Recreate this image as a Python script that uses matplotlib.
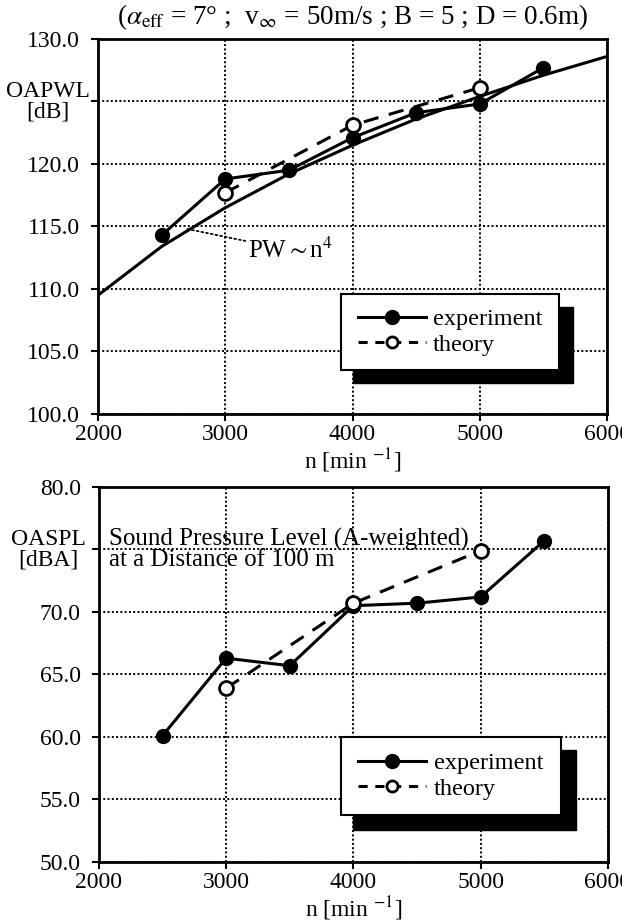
import matplotlib
matplotlib.use("Agg")
import matplotlib.pyplot as plt
from matplotlib.patches import Rectangle
from matplotlib.lines import Line2D

plt.rcParams['font.family'] = ['Liberation Serif', 'DejaVu Serif']
plt.rcParams['mathtext.fontset'] = 'stix'

# values
rpm_exp = [2500, 3000, 3500, 4000, 4500, 5000, 5500]
pwl_exp = [114.3, 118.8, 119.5, 122.1, 124.1, 124.8, 127.7]
rpm_theory = [3000, 4000, 5000]
pwl_theory = [117.7, 123.1, 126.1]
rpm_law = [2000, 2500, 3000, 3500, 4000, 4500, 5000, 5500, 6000]
pwl_law = [109.5, 113.4, 116.5, 119.2, 121.5, 123.6, 125.4, 127.1, 128.6]
spl_exp = [60.1, 66.3, 65.7, 70.5, 70.7, 71.2, 75.7]
spl_theory = [63.9, 70.7, 74.9]

x_ticks = [2000, 3000, 4000, 5000, 6000]
pwl_ticks = [100, 105, 110, 115, 120, 125, 130]
spl_ticks = [50, 55, 60, 65, 70, 75, 80]

FS = 17
fig = plt.figure(figsize=(6.22, 9.21), dpi=100)
ax1 = fig.add_axes([0.1576, 0.5505, 0.8183, 0.4072])
ax2 = fig.add_axes([0.1590, 0.0641, 0.8183, 0.4072])


def style_axes(ax, yticks, skip):
    ax.set_xlim(2000, 6000)
    ax.set_ylim(yticks[0], yticks[-1])
    ax.set_xticks(x_ticks)
    ax.set_xticklabels([str(t) for t in x_ticks])
    ax.set_yticks(yticks)
    ax.set_yticklabels(['' if t == skip else '%.1f' % t for t in yticks])
    ax.tick_params(direction='out', length=5, width=1.5, labelsize=FS, pad=2)
    ax.tick_params(axis='y', pad=8)
    for s in ax.spines.values():
        s.set_linewidth(2)
    ax.grid(True, color='black', linestyle=(0, (1, 1.2)), linewidth=1.4)
    ax.set_axisbelow(True)
    ax.set_xlabel(r'n [min $^{-1}$]', fontsize=FS, labelpad=1)


def draw_legend(ax, box, shadow):
    ax.add_patch(Rectangle(shadow[:2], shadow[2], shadow[3], transform=ax.transAxes,
                           facecolor='black', edgecolor='black', zorder=5))
    ax.add_patch(Rectangle(box[:2], box[2], box[3], transform=ax.transAxes,
                           facecolor='white', edgecolor='black', linewidth=1.5, zorder=6))
    handles = [Line2D([], [], color='black', lw=2.2, marker='o', ms=10),
               Line2D([], [], color='black', lw=2.2, ls=(0, (3, 2.5)), marker='o', ms=8,
                      mfc='white', mew=2)]
    leg = ax.legend(handles, ['experiment', 'theory'], loc='center',
                    bbox_to_anchor=(box[0] + box[2] / 2, box[1] + box[3] / 2),
                    frameon=False, fontsize=FS + 0.5, handlelength=2.8, handletextpad=0.3,
                    labelspacing=0.15, borderpad=0.2)
    leg.set_zorder(7)


# top: overall sound power level
style_axes(ax1, pwl_ticks, 125)
ax1.plot(rpm_law, pwl_law, color='black', lw=2.2, zorder=3)
ax1.plot(rpm_theory, pwl_theory, color='black', lw=2.2, ls=(0, (5, 3.5)),
         marker='o', ms=10, mfc='white', mew=2, zorder=4)
ax1.plot(rpm_exp, pwl_exp, color='black', lw=2.2, marker='o', ms=10, zorder=4)
ax1.annotate(r'PW$\sim$n$^4$', xy=(2700, 114.8), xytext=(3180, 113.1),
             fontsize=FS + 1, va='center', ha='left',
             arrowprops=dict(arrowstyle='-', color='black', lw=1.3, ls=':',
                             shrinkA=0, shrinkB=0))
ax1.text(-0.098, 125, 'OAPWL\n[dB]', transform=ax1.get_yaxis_transform(),
         ha='center', va='center', fontsize=FS, linespacing=0.95)
draw_legend(ax1, (0.477, 0.117, 0.429, 0.203), (0.501, 0.083, 0.432, 0.202))

fig.text(0.5675, 0.9815,
         r'($\alpha_{\rm eff}$ = 7° ;  v$_\infty$ = 50m/s ; B = 5 ; D = 0.6m)',
         ha='center', va='center', fontsize=19.5)

# bottom: A-weighted sound pressure level
style_axes(ax2, spl_ticks, 75)
ax2.plot(rpm_theory, spl_theory, color='black', lw=2.2, ls=(0, (5, 3.5)),
         marker='o', ms=10, mfc='white', mew=2, zorder=4)
ax2.plot(rpm_exp, spl_exp, color='black', lw=2.2, marker='o', ms=10, zorder=3)
ax2.text(-0.100, 75, 'OASPL\n[dBA]', transform=ax2.get_yaxis_transform(),
         ha='center', va='center', fontsize=FS, linespacing=0.95)
ax2.text(0.02, 75, 'Sound Pressure Level (A-weighted)\nat a Distance of 100 m',
         transform=ax2.get_yaxis_transform(), ha='left', va='center',
         fontsize=FS + 1, linespacing=0.9)
draw_legend(ax2, (0.475, 0.125, 0.432, 0.208), (0.499, 0.085, 0.438, 0.214))

fig.savefig('out.png', dpi=100)
